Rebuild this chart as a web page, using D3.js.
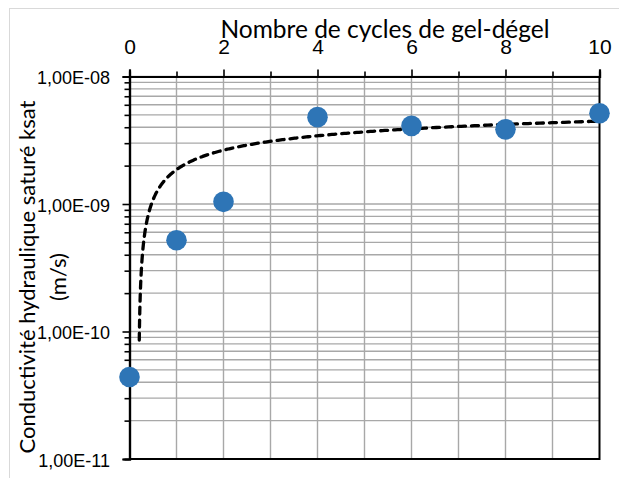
<!DOCTYPE html>
<html>
<head>
<meta charset="utf-8">
<script src="https://cdn.jsdelivr.net/npm/d3@7"></script>
<style>
  html, body { margin: 0; padding: 0; background: #fff; }
  svg { display: block; font-family: Lato, "Noto Sans", sans-serif; }
</style>
</head>
<body>
<svg id="chart" width="619" height="478"></svg>
<script>
// Saturated hydraulic conductivity vs number of freeze-thaw cycles
const cycles = [0, 1, 2, 4, 6, 8, 10];
const ksat = [4.4e-11, 5.2e-10, 1.04e-9, 4.8e-9, 4.1e-9, 3.85e-9, 5.15e-9];

// Logarithmic trendline: k = a * ln(n) + b, drawn over [start, end]
const trendCoef = [1.13e-9, 1.86e-9];
const trendRange = [0.208, 10];

const xTicks = [0, 2, 4, 6, 8, 10];
const xMinorTicks = [1, 3, 5, 7, 9];
const yTicks = [1e-11, 1e-10, 1e-9, 1e-8];
const yTickLabels = ["1,00E-11", "1,00E-10", "1,00E-09", "1,00E-08"];

const xTitle = "Nombre de cycles de gel-dégel";
const yTitle = ["Conductivité hydraulique saturé ksat", "(m/s)"];

const svg = d3.select("#chart");

// outer chart frame
svg.append("rect")
  .attr("x", 9.5).attr("y", 8.5)
  .attr("width", 640).attr("height", 500)
  .attr("fill", "#fff").attr("stroke", "#d9d9d9").attr("stroke-width", 1);

const plot = { left: 129.5, right: 599.5, top: 76.5, bottom: 459 };

const x = d3.scaleLinear().domain([0, 10]).range([plot.left, plot.right]);
const y = d3.scaleLog().domain([1e-11, 1e-8]).range([plot.bottom, plot.top]);

// gridlines
const grid = svg.append("g").attr("stroke", "#a8a8a8").attr("stroke-width", 1.4);
grid.selectAll("line.v")
  .data(d3.range(1, 10))
  .join("line")
  .attr("class", "v")
  .attr("x1", d => x(d)).attr("x2", d => x(d))
  .attr("y1", plot.top).attr("y2", plot.bottom);
grid.selectAll("line.h")
  .data(y.ticks())
  .join("line")
  .attr("class", "h")
  .attr("x1", plot.left).attr("x2", plot.right)
  .attr("y1", d => y(d)).attr("y2", d => y(d));

// plot frame (right and bottom)
svg.append("path")
  .attr("d", `M${plot.right},${plot.top}V${plot.bottom}H${plot.left}`)
  .attr("fill", "none").attr("stroke", "#000").attr("stroke-width", 2);

// top x axis
const xMinor = svg.append("g")
  .attr("transform", `translate(0,${plot.top})`)
  .call(d3.axisTop(x).tickValues(xMinorTicks).tickSize(5).tickFormat(""));
const xAxis = svg.append("g")
  .attr("transform", `translate(0,${plot.top})`)
  .call(d3.axisTop(x).tickValues(xTicks).tickSize(7).tickPadding(16).tickFormat(d3.format("d")));

// left y axis
const yMinor = svg.append("g")
  .attr("transform", `translate(${plot.left},0)`)
  .call(d3.axisLeft(y).tickValues(y.ticks().filter(v => !yTicks.includes(v))).tickSize(5).tickFormat(""));
const yAxis = svg.append("g")
  .attr("transform", `translate(${plot.left},0)`)
  .call(d3.axisLeft(y).tickValues(yTicks).tickSize(7).tickPadding(12.5)
    .tickFormat((d, i) => yTickLabels[i]));

[xMinor, xAxis, yMinor, yAxis].forEach(g => {
  g.selectAll("path.domain").attr("stroke", "#000").attr("stroke-width", 2.2);
  g.selectAll(".tick line").attr("stroke", "#000").attr("stroke-width", 1.6);
});
xAxis.selectAll(".tick text")
  .attr("fill", "#000").style("font-size", "21px").attr("dy", "0em");
yAxis.selectAll(".tick text")
  .attr("fill", "#000").style("font-size", "18px").attr("dy", "0.4em");

// trendline
const [a, b] = trendCoef;
const n0 = trendRange[0], n1 = trendRange[1];
const trendPts = d3.range(0, 401).map(i => {
  const n = n0 * Math.pow(n1 / n0, i / 400);
  return [n, a * Math.log(n) + b];
});
svg.append("path")
  .datum(trendPts)
  .attr("d", d3.line().x(d => x(d[0])).y(d => y(d[1])).curve(d3.curveLinear))
  .attr("fill", "none")
  .attr("stroke", "#000")
  .attr("stroke-width", 3.3)
  .attr("stroke-linecap", "round")
  .attr("stroke-dasharray", "7,6");

// data points
svg.append("g")
  .selectAll("circle")
  .data(cycles.map((c, i) => [c, ksat[i]]))
  .join("circle")
  .attr("cx", d => x(d[0]))
  .attr("cy", d => y(d[1]))
  .attr("r", 10.3)
  .attr("fill", "#2e75b6");

// axis titles
svg.append("text")
  .attr("x", 385).attr("y", 38)
  .attr("text-anchor", "middle")
  .style("font-size", "24.5px")
  .attr("fill", "#000")
  .text(xTitle);

const yt = svg.append("text")
  .attr("transform", "translate(0,277) rotate(-90)")
  .attr("text-anchor", "middle")
  .style("font-size", "22px")
  .attr("fill", "#000");
yt.append("tspan").attr("x", 0).attr("y", 35).text(yTitle[0]);
yt.append("tspan").attr("x", 0).attr("y", 66).text(yTitle[1]);
</script>
</body>
</html>
